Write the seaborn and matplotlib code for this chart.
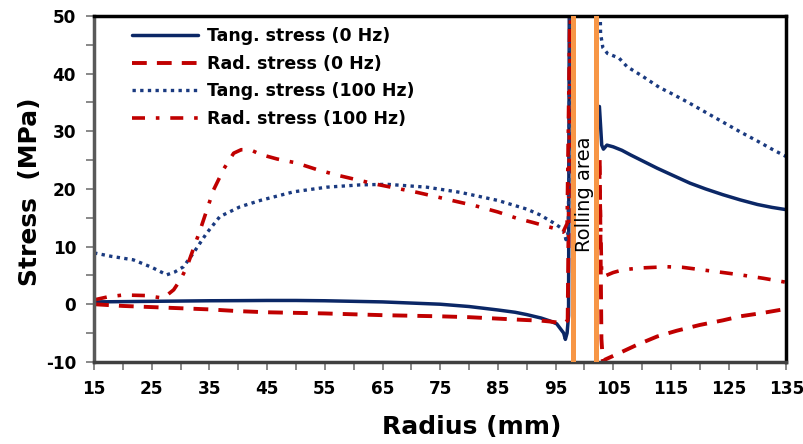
import numpy as np
import pandas as pd
import matplotlib
matplotlib.use("Agg")
import matplotlib.pyplot as plt
from matplotlib.lines import Line2D
from matplotlib.ticker import MultipleLocator, FixedLocator
import seaborn as sns

# ---------------- data ----------------
series_names = ["Tang. stress (0 Hz)", "Rad. stress (0 Hz)",
                "Tang. stress (100 Hz)", "Rad. stress (100 Hz)"]

# Tangential stress, 0 Hz
tang0_left_r = [15, 20, 25, 30, 35, 40, 45, 50, 55, 60, 65, 70, 75, 80, 85, 88, 90,
                92.5, 94, 95.2, 95.8, 96.4, 96.7, 97.0, 97.25, 97.4]
tang0_left_s = [0.4, 0.45, 0.5, 0.55, 0.6, 0.62, 0.65, 0.65, 0.6, 0.5, 0.4, 0.2, 0.0,
                -0.4, -1.0, -1.4, -1.8, -2.4, -2.9, -3.4, -4.2, -5.0, -6.1, -5.0, -2.0, 60]
tang0_right_r = [102.6, 102.8, 103.0, 103.3, 103.9, 105, 106.5, 108, 110, 112.6, 115,
                 118.3, 121, 124, 127, 130, 132.5, 135]
tang0_right_s = [34.3, 31.0, 27.6, 26.9, 27.6, 27.3, 26.7, 25.9, 24.9, 23.6, 22.5,
                 21.0, 20.0, 19.0, 18.1, 17.3, 16.8, 16.4]

# Radial stress, 0 Hz
rad0_left_r = [15, 20, 25, 30, 35, 40, 45, 50, 55, 60, 65, 70, 75, 80, 85, 90, 92.5,
               94, 95.5, 96.5, 97.1, 97.7]
rad0_left_s = [0.0, -0.3, -0.5, -0.7, -0.9, -1.2, -1.4, -1.5, -1.6, -1.75, -1.9, -2.0,
               -2.1, -2.25, -2.5, -2.75, -2.85, -3.0, -3.2, -3.3, -2.8, 60]
rad0_right_r = [102.65, 102.95, 103.2, 103.6, 106, 109, 112.6, 116, 120, 124, 127, 131, 135]
rad0_right_s = [25.0, -6.0, -10.0, -9.6, -8.5, -7.1, -5.6, -4.6, -3.6, -2.8, -2.1, -1.5, -0.8]

# Tangential stress, 100 Hz
tang100_left_r = [15, 18, 21.8, 25, 27.6, 29, 30.5, 32.2, 34.5, 36.8, 40.3, 43.8, 49.6,
                  55.3, 61.1, 65.8, 72.7, 78.5, 85, 90, 92.3, 94.5, 96.0, 96.4, 96.8,
                  97.2, 97.6]
tang100_left_s = [8.9, 8.3, 7.7, 6.4, 5.1, 5.6, 6.5, 8.85, 12.3, 15.2, 16.9, 18.0, 19.5,
                  20.3, 20.7, 20.8, 20.3, 19.4, 18.0, 16.5, 15.5, 14.2, 13.2, 12.9, 11.2,
                  12.5, 60]
tang100_right_r = [102.6, 102.8, 103.2, 104, 106, 107.4, 110, 113, 115, 118, 121, 124,
                   127, 130, 132.5, 135]
tang100_right_s = [60, 47.0, 44.5, 43.5, 42.7, 41.2, 39.6, 37.6, 36.6, 35.0, 33.3, 31.6,
                   29.9, 28.3, 26.9, 25.6]

# Radial stress, 100 Hz
rad100_left_r = [15, 17.5, 20.1, 24, 27, 28.8, 30, 31.1, 33.4, 35.7, 37.5, 39.2, 40.5,
                 42.1, 43.8, 46.7, 50.1, 53.5, 57.1, 60.5, 64.0, 67.5, 71.0, 74.5, 77.9,
                 81, 85, 88.3, 91, 94.6, 96.3, 97.0, 97.6]
rad100_left_s = [0.75, 1.3, 1.6, 1.5, 1.05, 2.5, 4.3, 6.5, 12.9, 19.8, 23.5, 26.2, 26.8,
                 26.8, 26.0, 25.2, 24.5, 23.4, 22.4, 21.6, 20.8, 20.1, 19.4, 18.6, 17.8,
                 17.1, 16.0, 14.9, 14.2, 13.2, 12.5, 14.0, 60]
rad100_right_r = [102.6, 103.0, 103.3, 105, 106.8, 110, 114.3, 117, 120.1, 124, 127,
                  131, 135]
rad100_right_s = [24.0, 5.0, 4.8, 5.5, 6.0, 6.3, 6.5, 6.4, 6.0, 5.5, 5.1, 4.5, 3.8]

rolling_edges = [98, 102]
x_ticks = [15, 25, 35, 45, 55, 65, 75, 85, 95, 105, 115, 125, 135]

# ---------------- long-form table ----------------
segments = [
    (series_names[0], "t0L", tang0_left_r, tang0_left_s),
    (series_names[0], "t0R", tang0_right_r, tang0_right_s),
    (series_names[1], "r0L", rad0_left_r, rad0_left_s),
    (series_names[1], "r0R", rad0_right_r, rad0_right_s),
    (series_names[2], "t1L", tang100_left_r, tang100_left_s),
    (series_names[2], "t1R", tang100_right_r, tang100_right_s),
    (series_names[3], "r1L", rad100_left_r, rad100_left_s),
    (series_names[3], "r1R", rad100_right_r, rad100_right_s),
]
frames = []
for name, seg, r, s in segments:
    frames.append(pd.DataFrame({"radius": r, "stress": s, "series": name, "segment": seg}))
df = pd.concat(frames, ignore_index=True)

navy = "#0B2766"
red = "#C00000"
palette = {series_names[0]: navy, series_names[1]: red,
           series_names[2]: "#1A3A80", series_names[3]: red}
dashes = {series_names[0]: "", series_names[1]: (3.8, 2.6),
          series_names[2]: (1.0, 1.3), series_names[3]: (3.6, 3.0, 1.0, 3.0)}
sizes = {series_names[0]: 2.5, series_names[1]: 2.8,
         series_names[2]: 2.4, series_names[3]: 2.6}

# ---------------- figure ----------------
sns.set_style("ticks")
plt.rcParams["font.family"] = ["DejaVu Sans"]
plt.rcParams["axes.unicode_minus"] = False
plt.rcParams["text.color"] = "black"
plt.rcParams["axes.labelcolor"] = "black"

fig = plt.figure(figsize=(8.04, 4.44), dpi=100)
ax = fig.add_axes([0.117, 0.185, 0.861, 0.779])

sns.lineplot(data=df, x="radius", y="stress", hue="series", style="series",
             size="series", units="segment", estimator=None, sort=False,
             hue_order=series_names, style_order=series_names, size_order=series_names,
             palette=palette, dashes=dashes, sizes=sizes, legend=False, ax=ax)

for xv in rolling_edges:
    ax.axvline(xv, color="#F79646", lw=3.6, zorder=5)
ax.text(sum(rolling_edges) / 2, 19, "Rolling area", rotation=90, ha="center",
        va="center", fontsize=14, color="black", zorder=6)

ax.set_xlim(15, 135)
ax.set_ylim(-10, 50)
ax.xaxis.set_major_locator(FixedLocator(x_ticks))
ax.xaxis.set_minor_locator(MultipleLocator(5))
ax.yaxis.set_major_locator(MultipleLocator(10))
ax.yaxis.set_minor_locator(MultipleLocator(5))
ax.tick_params(which="both", direction="out", length=6, width=1.3, color="#7F7F7F",
               labelsize=12.2, pad=7, labelcolor="black")
for lab in ax.get_xticklabels() + ax.get_yticklabels():
    lab.set_fontweight("bold")

for side in ["top", "right"]:
    ax.spines[side].set_color("black")
    ax.spines[side].set_linewidth(2.5)
ax.spines["left"].set_color("#595959")
ax.spines["left"].set_linewidth(2.5)
ax.spines["bottom"].set_color("#404040")
ax.spines["bottom"].set_linewidth(2.5)

ax.set_xlabel("Radius (mm)", fontsize=18, fontweight="bold", color="black")
ax.set_ylabel("Stress  (MPa)", fontsize=18, fontweight="bold", color="black")
ax.xaxis.set_label_coords(0.545, -0.155)
ax.yaxis.set_label_coords(-0.075, 0.491)

handles = []
for name in series_names:
    d = dashes[name]
    h = Line2D([], [], color=palette[name], lw=sizes[name])
    if d:
        h.set_dashes(d)
    handles.append(h)
leg = ax.legend(handles=handles, labels=series_names, loc="upper left",
                bbox_to_anchor=(0.055, 0.968), frameon=False, borderpad=0,
                borderaxespad=0, handlelength=3.8, handletextpad=0.5, labelspacing=0.55,
                prop={"size": 12.5, "weight": "bold"})
for t in leg.get_texts():
    t.set_color("black")

fig.savefig("out.png", dpi=100)
